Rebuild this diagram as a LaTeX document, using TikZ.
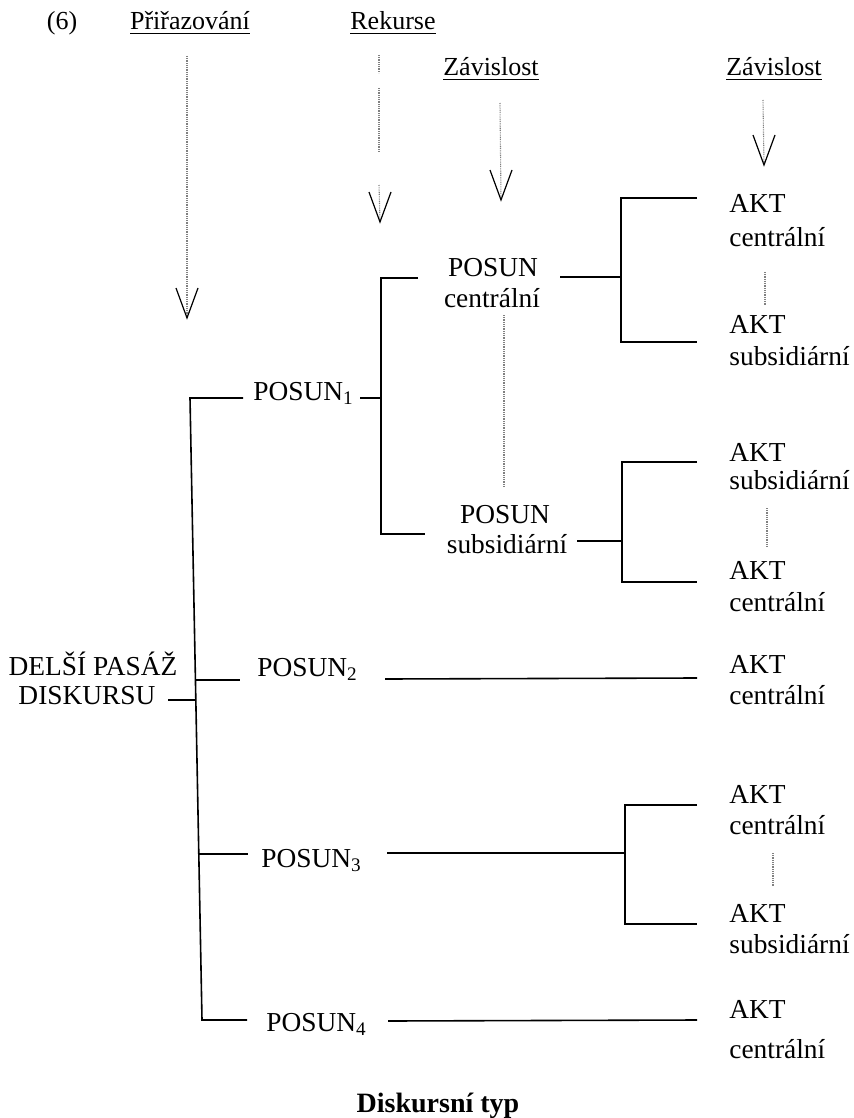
\documentclass[tikz,border=0pt]{standalone}
\usepackage{fontspec}
\setmainfont{Liberation Serif}
\begin{document}
\begin{tikzpicture}[x=0.5pt,y=-0.5pt,
  font=\fontsize{13.7}{16}\selectfont,
  lbl/.style={inner sep=0pt, anchor=base},
  lblw/.style={inner sep=0pt, anchor=base west},
  head/.style={inner sep=0pt, anchor=base, font=\fontsize{13}{15.6}\selectfont},
  ln/.style={line width=0.8pt, line join=miter},
  dotln/.style={line width=0.55pt, black!50, dash pattern=on 0.45pt off 0.45pt},
  vhead/.style={line width=0.6pt}]
\useasboundingbox (0,0) rectangle (853,1118);

% ---------- headings ----------
\node[head] (n6)   at (62,30)  {(6)};
\node[head] (prir) at (190,30) {\underline{Přiřazování}};
\node[head] (rek)  at (393,30) {\underline{Rekurse}};
\node[head] (zav1) at (491,76) {\underline{Závislost}};
\node[head] (zav2) at (774,76) {\underline{Závislost}};

% ---------- labels ----------
\node[lblw] (a1)  at (729,213) {AKT};
\node[lblw] (a1b) at (729,247) {centrální};
\node[lbl]  (pc)  at (493,277) {POSUN};
\node[lbl]  (pcb) at (492,307) {centrální};
\node[lblw] (a2)  at (729,333) {AKT};
\node[lblw] (a2b) at (729,365) {subsidiární};
\node[lblw] (p1)  at (253,400) {POSUN\textsubscript{1}};
\node[lblw] (a3)  at (729,461) {AKT};
\node[lblw] (a3b) at (729,489) {subsidiární};
\node[lbl]  (ps)  at (505,523) {POSUN};
\node[lbl]  (psb) at (507,553) {subsidiární};
\node[lblw] (a4)  at (729,579) {AKT};
\node[lblw] (a4b) at (729,611) {centrální};
\node[lbl]  (del) at (93,675) {DELŠÍ PASÁŽ};
\node[lbl]  (dis) at (87,704) {DISKURSU};
\node[lblw] (p2)  at (257,676) {POSUN\textsubscript{2}};
\node[lblw] (a5)  at (729,673) {AKT};
\node[lblw] (a5b) at (729,704) {centrální};
\node[lblw] (a6)  at (729,803) {AKT};
\node[lblw] (a6b) at (729,834) {centrální};
\node[lblw] (p3)  at (261,867) {POSUN\textsubscript{3}};
\node[lblw] (a7)  at (729,922) {AKT};
\node[lblw] (a7b) at (729,953) {subsidiární};
\node[lblw] (p4)  at (266,1031) {POSUN\textsubscript{4}};
\node[lblw] (a8)  at (729,1018) {AKT};
\node[lblw] (a8b) at (729,1058) {centrální};
\node[lbl, font=\fontsize{14}{16}\selectfont\bfseries] (typ) at (438,1112) {Diskursní typ};

% ---------- main bracket ----------
\coordinate (mT) at (190,398);
\coordinate (mB) at (202,1020);
\draw[ln] (243,398) -- (mT) -- (mB) -- (247,1020);
\draw[ln] (195.4,680) -- (240,680);
\draw[ln] (198.8,854) -- (248,854);
\draw[ln] (168,700) -- (195.8,700);

% ---------- POSUN1 ----------
\draw[ln] (360,398) -- (381,398);
\draw[ln] (418,278) -- (381,278) -- (381,534) -- (425,534);

% POSUN centralni
\draw[ln] (560,277) -- (621,277);
\draw[ln] (697,198) -- (621,198) -- (621,342) -- (697,342);

% POSUN subsidiarni
\draw[ln] (577,541) -- (622,541);
\draw[ln] (697,462) -- (622,462) -- (622,582) -- (697,582);

% POSUN2
\draw[ln] (385,679) -- (697,678);

% POSUN3
\draw[ln] (387,853) -- (625,853);
\draw[ln] (697,805) -- (625,805) -- (625,924) -- (697,924);

% POSUN4
\draw[ln] (388,1021) -- (697,1020);

% ---------- dotted links ----------
\draw[dotln] (504,315) -- (504,487);
\draw[dotln] (765,272) -- (765,305);
\draw[dotln] (767,508) -- (767,547);
\draw[dotln] (773,853) -- (773,887);

% ---------- heading arrows ----------
\coordinate (t1) at (187,318);
\coordinate (t2) at (380,222);
\coordinate (t3) at (501,200);
\coordinate (t4) at (764,165);
\draw[dotln] (187,56) -- (t1);
\draw[dotln] (379,55) -- (379,73);
\draw[dotln] (379,88) -- (379,152);
\draw[dotln] (379,185) -- (t2);
\draw[dotln] (500,103) -- (t3);
\draw[dotln] (763,100) -- (t4);
\foreach \t in {t1,t2,t3,t4}
  \draw[vhead] (\t) ++(-11,-30) -- (\t) -- ++(11,-30);
\end{tikzpicture}
\end{document}
